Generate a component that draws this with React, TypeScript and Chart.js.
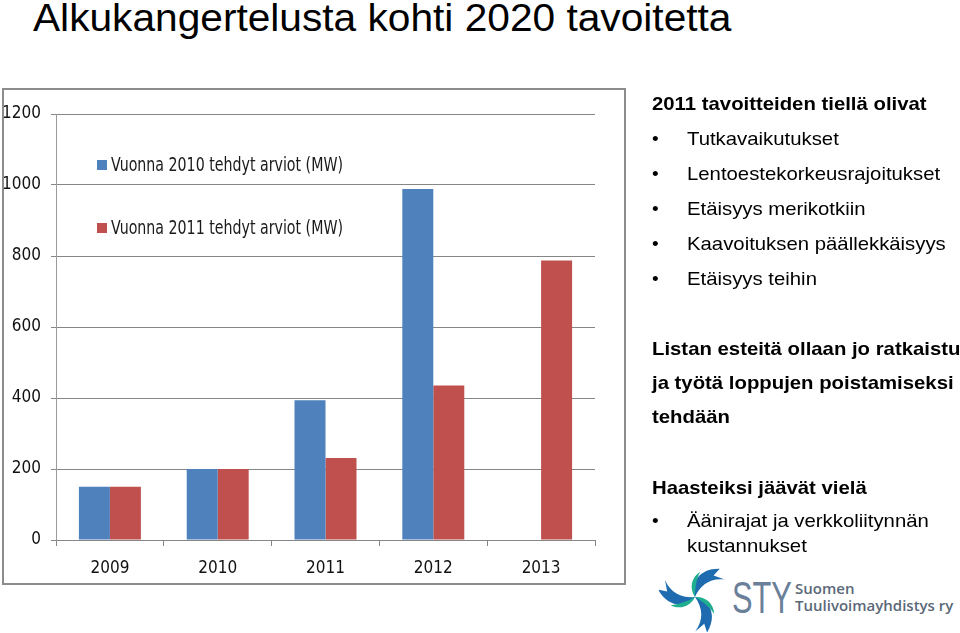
import React, { useEffect, useRef } from "react";
import { Chart, registerables } from "chart.js";

Chart.register(...registerables);

const categories = ["2009", "2010", "2011", "2012", "2013"];
const estimates2010 = [150, 200, 394, 989, null];
const estimates2011 = [150, 200, 231, 435, 787];
const seriesLabels = ["Vuonna 2010 tehdyt arviot (MW)", "Vuonna 2011 tehdyt arviot (MW)"];
const seriesColors = ["#4F81BD", "#C0504D"];

const chartFont = '"DejaVu Sans Condensed", "Liberation Sans Narrow", "Liberation Sans", sans-serif';

const insideLegend = {
  id: "insideLegend",
  afterDraw(chart: any) {
    const { ctx, chartArea } = chart;
    ctx.save();
    ctx.font = `20px ${chartFont}`;
    ctx.textBaseline = "middle";
    ctx.textAlign = "left";
    chart.data.datasets.forEach((ds: any, i: number) => {
      const y = chartArea.top + 51 + i * 63;
      const x = chartArea.left + 41;
      ctx.fillStyle = ds.backgroundColor;
      ctx.fillRect(x, y - 5, 10, 10);
      ctx.fillStyle = "#1a1a1a";
      ctx.fillText(ds.label, x + 14, y + 1, 232);
    });
    ctx.restore();
  },
};

function ChartBox() {
  const ref = useRef<HTMLCanvasElement | null>(null);
  useEffect(() => {
    if (!ref.current) return;
    const chart = new Chart(ref.current, {
      type: "bar",
      data: {
        labels: categories,
        datasets: [
          { label: seriesLabels[0], data: estimates2010 as any, backgroundColor: seriesColors[0], categoryPercentage: 0.575, barPercentage: 1 },
          { label: seriesLabels[1], data: estimates2011, backgroundColor: seriesColors[1], categoryPercentage: 0.575, barPercentage: 1 },
        ],
      },
      options: {
        responsive: false,
        animation: false,
        layout: { padding: { top: 24, right: 29, left: 0, bottom: 0 } },
        plugins: { legend: { display: false }, tooltip: { enabled: false } },
        scales: {
          x: {
            afterFit: (s: any) => { s.height = 43; },
            grid: { drawOnChartArea: false, tickLength: 6, color: "#868686", offset: true },
            border: { color: "#868686" },
            ticks: { color: "#111", font: { family: chartFont, size: 17 }, padding: 12 },
          },
          y: {
            min: 0,
            max: 1200,
            afterFit: (s: any) => { s.width = 52; },
            grid: { color: "#868686", tickLength: 5 },
            border: { color: "#9a9a9a" },
            ticks: { stepSize: 200, color: "#111", font: { family: chartFont, size: 17 }, padding: 10, callback: (v: any) => String(v) },
          },
        },
      },
      plugins: [insideLegend],
    });
    return () => chart.destroy();
  }, []);
  return <canvas ref={ref} width={620} height={493} style={{ display: "block" }} />;
}

const bulletsTop = ["Tutkavaikutukset", "Lentoestekorkeusrajoitukset", "Etäisyys merikotkiin", "Kaavoituksen päällekkäisyys", "Etäisyys teihin"];

const textFont = '"Liberation Sans", Arial, sans-serif';

function Line({ y, x, bold, children, bullet }: any) {
  return (
    <div style={{ position: "absolute", left: 0, top: y - 11, height: 22, lineHeight: "22px", width: 960, whiteSpace: "nowrap", fontFamily: textFont, fontSize: 19, fontWeight: bold ? 700 : 400, color: "#000" }}>
      {bullet && <span style={{ position: "absolute", left: 652 }}>•</span>}
      <span style={{ position: "absolute", left: x, transform: "scaleX(1.07)", transformOrigin: "0 50%" }}>{children}</span>
    </div>
  );
}

function Logo() {
  const blade = "M36,36 C28,22 36,6 56,3 L51,11 L63,13 C47,14 39,24 36,36 Z";
  const inner = "M36,36 C33,26 38,16 49,13 C43,19 39,27 36,36 Z";
  return (
    <svg width={72} height={70} viewBox="0 0 72 72" style={{ position: "absolute", left: 659, top: 562 }}>
      {[0, 120, 240].map((r) => (
        <g key={r} transform={`rotate(${r + 10} 36 36)`}>
          <path d={blade} fill="#1E6BB0" />
          <path d={inner} fill="#1FAE8F" transform="rotate(-28 36 36)" />
        </g>
      ))}
    </svg>
  );
}

export default function App() {
  return (
    <div style={{ position: "absolute", left: 0, top: 0, width: 960, height: 633, background: "#fff", overflow: "hidden" }}>
      <div style={{ position: "absolute", left: 33, top: -5, fontFamily: textFont, fontSize: 38, lineHeight: "46px", color: "#000", whiteSpace: "nowrap", transform: "scaleX(1.07)", transformOrigin: "0 50%" }}>
        Alkukangertelusta kohti 2020 tavoitetta
      </div>
      <div style={{ position: "absolute", left: 2, top: 88, width: 624, height: 497, border: "2px solid #8c8c8c", boxSizing: "border-box", background: "#fff" }}>
        <ChartBox />
      </div>
      <Line y={104} x={652} bold>2011 tavoitteiden tiellä olivat</Line>
      {bulletsTop.map((t, i) => (
        <Line key={t} y={139 + i * 35} x={687} bullet>{t}</Line>
      ))}
      <Line y={349} x={652} bold>Listan esteitä ollaan jo ratkaistu</Line>
      <Line y={383} x={652} bold>ja työtä loppujen poistamiseksi</Line>
      <Line y={417} x={652} bold>tehdään</Line>
      <Line y={488} x={652} bold>Haasteiksi jäävät vielä</Line>
      <Line y={521} x={687} bullet>Äänirajat ja verkkoliitynnän</Line>
      <Line y={546} x={687}>kustannukset</Line>
      <Logo />
      <div style={{ position: "absolute", left: 732, top: 574, fontFamily: textFont, fontSize: 44, lineHeight: "48px", color: "#6A8099", whiteSpace: "nowrap", transform: "scaleX(0.7)", transformOrigin: "0 50%" }}>STY</div>
      <div style={{ position: "absolute", left: 795, top: 580, fontFamily: '"Open Sans", sans-serif', fontSize: 15, lineHeight: "17px", color: "#5A6878", fontWeight: 600, whiteSpace: "nowrap" }}>
        Suomen<br />Tuulivoimayhdistys ry
      </div>
    </div>
  );
}
